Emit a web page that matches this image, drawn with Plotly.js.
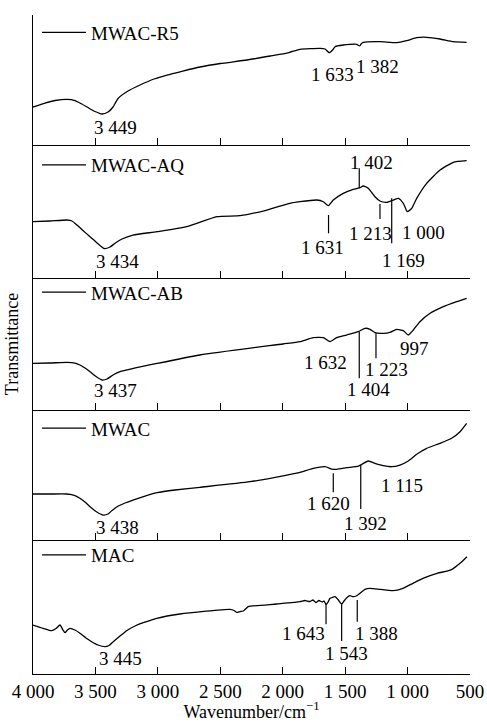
<!DOCTYPE html>
<html>
<head>
<meta charset="utf-8">
<script src="https://cdn.plot.ly/plotly-3.0.1.min.js"></script>
<style>
html,body{margin:0;padding:0;background:#fff;}
#chart{width:487px;height:722px;}
</style>
</head>
<body>
<div id="chart"></div>
<script>
// ---------------- DATA ----------------
const seriesNames = ['MWAC-R5', 'MWAC-AQ', 'MWAC-AB', 'MWAC', 'MAC'];

const wn_R5 = [4000,3904,3824,3728,3664,3624,3567,3503,3447,3399,3359,3343,3319,3239,3143,3031,2927,2800,2663,2500,2286,2100,1950,1862,1701,1661,1627,1597,1581,1515,1407,1393,1381,1369,1355,1221,1087,1007,927,847,740,634,527];
const t_R5  = [38,42,44.5,45.7,44.5,42,38,33.5,31,33,38,41.5,46.5,54,60,66,70,74,78,81.5,85,89,92.5,95.7,96.7,96,92.3,95.5,98.3,100,100.7,99.5,99.3,101.5,102.7,103.3,102.3,104.3,107.3,107.7,106,103.3,102.7];

const wn_AQ = [4000,3864,3728,3688,3648,3600,3543,3487,3431,3383,3343,3287,3199,3007,2767,2526,2342,2126,1942,1862,1728,1675,1635,1595,1515,1435,1381,1355,1315,1261,1221,1167,1114,1074,1034,1002,967,927,847,740,634,527];
const t_AQ  = [56.3,57,58,57,53,47.5,41.3,35,29.5,31,34.7,39,43,46.3,51.3,61.3,62.3,68,74.7,76.3,78,76.3,72.3,78,84.7,88.7,90.3,92,89.7,81.3,77,75.7,78,79.7,74.7,66.3,69.7,79.7,94.7,108,115.7,117.3];

const wn_AB = [4000,3864,3728,3664,3624,3584,3543,3495,3447,3407,3359,3303,2663,1998,1862,1755,1675,1621,1568,1488,1395,1341,1301,1261,1194,1141,1087,1034,994,954,901,820,714,607,527];
const t_AB  = [46.7,47,47.7,47,45,42,38.3,33.5,30,31,35,38.3,55,66,68.3,72.3,72.3,68.3,72.3,75,78.3,81.7,80.7,77.3,76.7,77.7,80.7,79.3,75,80,88.3,96.7,103.3,108.3,111.7];

const wn_MWAC = [4000,3864,3728,3664,3624,3584,3543,3495,3439,3399,3367,3327,3263,3199,3103,3007,2863,2663,2262,1966,1862,1755,1661,1607,1567,1487,1393,1367,1315,1261,1194,1127,1061,994,927,847,740,647,580,527];
const t_MWAC  = [46,46,46,44.5,41.7,38,33.3,28.5,25,26,29.5,33.3,37,40,44,47.3,50,52.7,58.3,65,67.7,71.7,73.3,71,70.7,72.3,74,75.7,79,76.7,74.3,73.3,75,79,85.7,91.7,96.7,101.7,108.3,116.7];

const wn_MAC = [4000,3918,3850,3816,3784,3760,3744,3724,3704,3664,3624,3576,3530,3480,3423,3391,3357,3303,3250,3183,3117,3009,2823,2422,2390,2369,2342,2316,2294,2276,2048,1862,1822,1782,1758,1734,1710,1685,1669,1653,1637,1621,1581,1557,1528,1509,1487,1461,1437,1407,1381,1341,1301,1221,1117,1037,957,877,764,684,644,580,524];
const t_MAC  = [49,45.7,43.3,45.5,49,44,41.3,44,45.7,44,40.7,36,32.3,29,27.3,28.5,32.3,38,43.3,48,51.3,55.7,60,64.7,63.5,61.7,62.5,63,65.5,67.3,70,72.3,73.5,72.5,74,71.5,73.5,72,73,69.7,72,75.7,77.3,74.5,70,73,76.3,78.3,77.3,78.3,80.7,84.7,85.7,84.7,83.3,85.7,90.7,95.7,100.7,103,104.7,110.7,117.3];

// peak labels (text) per spectrum
const peaks_R5   = ['3 449', '1 633', '1 382'];
const peaks_AQ   = ['3 434', '1 631', '1 402', '1 213', '1 169', '1 000'];
const peaks_AB   = ['3 437', '1 632', '1 404', '1 223', '997'];
const peaks_MWAC = ['3 438', '1 620', '1 392', '1 115'];
const peaks_MAC  = ['3 445', '1 643', '1 543', '1 388'];

// peak marker bars: wavenumber, upper and lower value
const bar_AQ_wn = [1633, 1387, 1221, 1127];
const bar_AQ_hi = [63, 109.7, 74, 79.7];
const bar_AQ_lo = [44.7, 89.7, 59, 34.7];
const bar_AB_wn = [1387, 1253];
const bar_AB_hi = [78.3, 76.7];
const bar_AB_lo = [31.7, 51.7];
const bar_MWAC_wn = [1595, 1375];
const bar_MWAC_hi = [66.7, 75];
const bar_MWAC_lo = [47.7, 31];
const bar_MAC_wn = [1653, 1528, 1403];
const bar_MAC_hi = [70.7, 69.7, 74];
const bar_MAC_lo = [49.7, 33, 52.3];

const tickVals = [4000, 3500, 3000, 2500, 2000, 1500, 1000, 500];
const tickText = ['4 000', '3 500', '3 000', '2 500', '2 000', '1 500', '1 000', '500'];

// ---------------- LAYOUT / STYLE ----------------
const FONT = 'Liberation Serif, Times New Roman, serif';
const FS = 19;
// panel order top->bottom: R5 (x5/y5), AQ (x4/y4), AB (x3/y3), MWAC (x2/y2), MAC (x/y)
const panels = [
  {name: seriesNames[0], x: wn_R5,   y: t_R5,   ax: '5', dom: [0.8027, 1.0],    rng: [0, 130], leg: 'legend',  legY: 0.9734,
   labels: peaks_R5, lpos: [[3343, 18], [1601, 71], [1241, 78.3]], bars: null},
  {name: seriesNames[1], x: wn_AQ,   y: t_AQ,   ax: '4', dom: [0.6009, 0.8027], rng: [0, 133], leg: 'legend2', legY: 0.7724,
   labels: peaks_AQ, lpos: [[3327, 17], [1681, 30.5], [1285, 116], [1295, 45], [1034, 17.5], [874, 46]],
   bars: [bar_AQ_wn, bar_AQ_hi, bar_AQ_lo]},
  {name: seriesNames[2], x: wn_AB,   y: t_AB,   ax: '3', dom: [0.4006, 0.6009], rng: [0, 132], leg: 'legend3', legY: 0.5792,
   labels: peaks_AB, lpos: [[3343, 19.5], [1661, 48], [1314, 21], [1168, 41], [947, 61.5]],
   bars: [bar_AB_wn, bar_AB_hi, bar_AB_lo]},
  {name: seriesNames[3], x: wn_MWAC, y: t_MWAC, ax: '2', dom: [0.2033, 0.4006], rng: [0, 130], leg: 'legend4', legY: 0.3728,
   labels: peaks_MWAC, lpos: [[3322, 13], [1635, 36.5], [1341, 16.5], [1041, 55]],
   bars: [bar_MWAC_wn, bar_MWAC_hi, bar_MWAC_lo]},
  {name: seriesNames[4], x: wn_MAC,  y: t_MAC,  ax: '',  dom: [0.0, 0.2033],   rng: [0, 134], leg: 'legend5', legY: 0.1806,
   labels: peaks_MAC, lpos: [[3297, 15.5], [1835, 40.5], [1487, 20.5], [1247, 40.5]],
   bars: [bar_MAC_wn, bar_MAC_hi, bar_MAC_lo]}
];

const traces = [];
const shapes = [];
const annotations = [];
const layout = {
  width: 487, height: 722,
  margin: {l: 33, r: 17, t: 15, b: 48},
  paper_bgcolor: '#fff', plot_bgcolor: 'rgba(0,0,0,0)',
  font: {family: FONT, size: FS, color: '#000'},
  showlegend: true
};

panels.forEach(p => {
  const xk = 'xaxis' + p.ax, yk = 'yaxis' + p.ax;
  const xr = 'x' + p.ax, yr = 'y' + p.ax;
  traces.push({
    type: 'scatter', mode: 'lines', name: p.name,
    x: p.x, y: p.y, xaxis: xr, yaxis: yr, legend: p.leg,
    line: {color: '#000', width: 1.3, shape: 'spline', smoothing: 0.5},
    hoverinfo: 'skip'
  });
  const isBottom = p.ax === '';
  layout[xk] = {
    anchor: yr, range: [4000, 500], autorange: false,
    showline: true, linecolor: '#000', linewidth: 1,
    ticks: 'inside', ticklen: 7, tickwidth: 1, tickcolor: '#000',
    tickmode: 'array', tickvals: tickVals, ticktext: tickText,
    showticklabels: isBottom, showgrid: false, zeroline: false,
    tickfont: {family: FONT, size: FS, color: '#000'}
  };
  if (isBottom) {
    layout[xk].title = {text: 'Wavenumber/cm<sup>\u22121</sup>', font: {family: FONT, size: 18, color: '#000'}, standoff: 0};
  }
  layout[yk] = {
    anchor: xr, domain: p.dom, range: p.rng, autorange: false,
    showline: true, linecolor: '#000', linewidth: 1,
    ticks: '', showticklabels: false, showgrid: false, zeroline: false
  };
  if (p.ax === '3') {
    layout[yk].title = {text: 'Transmittance', font: {family: FONT, size: 18, color: '#000'}, standoff: 8};
  }
  layout[p.leg] = {
    x: 0.0092, xanchor: 'left', y: p.legY, yanchor: 'middle',
    bgcolor: 'rgba(0,0,0,0)', borderwidth: 0, itemwidth: 44,
    font: {family: FONT, size: FS, color: '#000'}
  };
  p.labels.forEach((t, i) => {
    annotations.push({
      text: t, x: p.lpos[i][0], y: p.lpos[i][1], xref: xr, yref: yr,
      showarrow: false, xanchor: 'center', yanchor: 'middle',
      font: {family: FONT, size: FS, color: '#000'}
    });
  });
  if (p.bars) {
    p.bars[0].forEach((w, i) => {
      shapes.push({type: 'line', xref: xr, yref: yr, x0: w, x1: w, y0: p.bars[1][i], y1: p.bars[2][i],
        line: {color: '#000', width: 1.2}});
    });
  }
});
layout.shapes = shapes;
layout.annotations = annotations;

Plotly.newPlot('chart', traces, layout, {displayModeBar: false, staticPlot: true});
</script>
</body>
</html>
